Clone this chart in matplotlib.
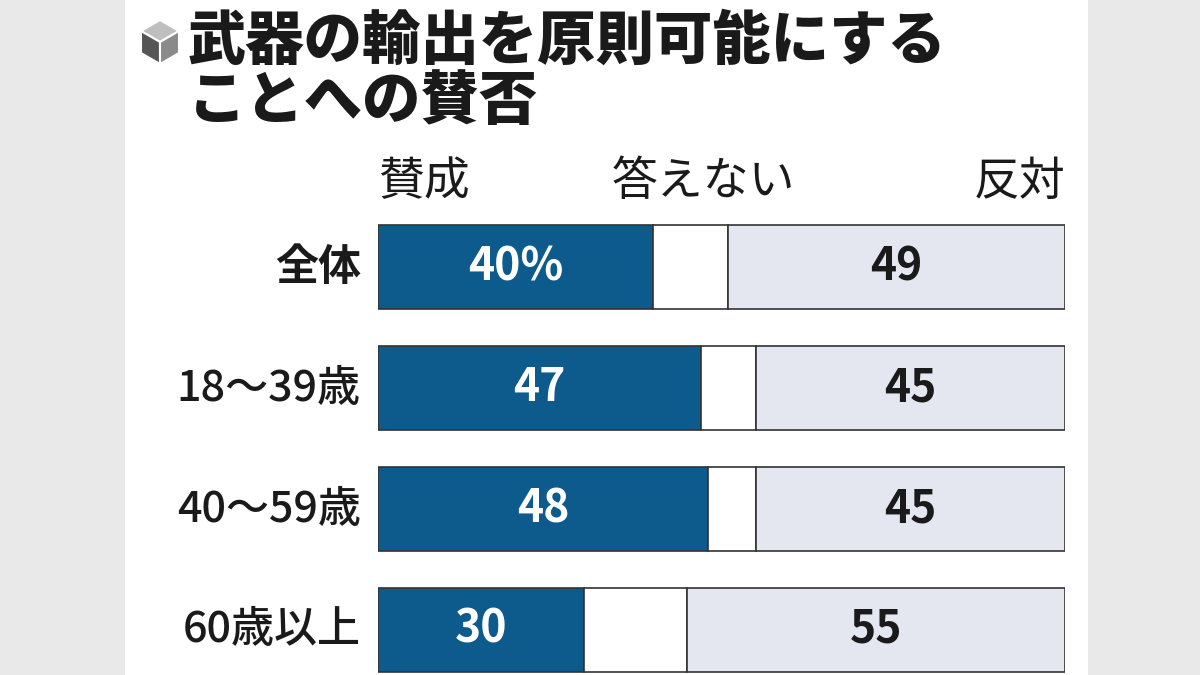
import matplotlib.pyplot as plt
from matplotlib.patches import Rectangle, Polygon

plt.rcParams['font.family'] = ['Noto Sans CJK JP', 'DejaVu Sans']

title_lines = ["武器の輸出を原則可能にする", "ことへの賛否"]
groups = ["全体", "18〜39歳", "40〜59歳", "60歳以上"]
agree = [40, 47, 48, 30]
no_answer = [11, 8, 7, 15]
disagree = [49, 45, 45, 55]
agree_labels = ["40%", "47", "48", "30"]
disagree_labels = ["49", "45", "45", "55"]

BLUE = "#0d5a8c"
LIGHT = "#e4e7f0"
EDGE = "#333333"

W, H = 1200, 675
fig = plt.figure(figsize=(12, 6.75), dpi=100)
fig.patch.set_facecolor("#e9e9e9")
# white panel
fig.patches.append(Rectangle((125 / W, 0), 963 / W, 1, transform=fig.transFigure,
                             facecolor="white", edgecolor="none", zorder=-5))

def fx(px):
    return px / W

def fy(py):
    return 1 - py / H

# cube icon
cx, cy = 160, 42
top = [(cx, cy - 22), (cx + 19, cy - 11), (cx, cy), (cx - 19, cy - 11)]
left = [(cx - 19, cy - 11), (cx, cy), (cx, cy + 22), (cx - 19, cy + 11)]
right = [(cx, cy), (cx + 19, cy - 11), (cx + 19, cy + 11), (cx, cy + 22)]
for pts, col in [(top, "#bfbfbf"), (left, "#555555"), (right, "#8a8a8a")]:
    fig.patches.append(Polygon([(fx(a), fy(b)) for a, b in pts], closed=True,
                               transform=fig.transFigure, facecolor=col,
                               edgecolor="white", linewidth=1.5))

fig.text(fx(188), fy(42), title_lines[0], fontsize=42, fontweight="heavy",
         va="center", ha="left", color="#1a1a1a")
fig.text(fx(188), fy(102), title_lines[1], fontsize=42, fontweight="heavy",
         va="center", ha="left", color="#1a1a1a")

# headers
fig.text(fx(378), fy(182), "賛成", fontsize=33, va="center", ha="left", color="#1a1a1a")
fig.text(fx(703), fy(182), "答えない", fontsize=33, va="center", ha="center", color="#1a1a1a")
fig.text(fx(1065), fy(182), "反対", fontsize=33, va="center", ha="right", color="#1a1a1a")

ax = fig.add_axes([fx(378), fy(675), (1065 - 378) / W, 475 / H])
ax.set_zorder(5)
ax.set_xlim(0, 100)
ax.set_ylim(3.372, -0.554)
ax.axis("off")

ypos = list(range(len(groups)))
left_na = agree
left_dis = [a + n for a, n in zip(agree, no_answer)]
ax.barh(ypos, agree, height=0.7, color=BLUE, edgecolor=EDGE, linewidth=1.2)
ax.barh(ypos, no_answer, left=left_na, height=0.7, color="white", edgecolor=EDGE, linewidth=1.2)
ax.barh(ypos, disagree, left=left_dis, height=0.7, color=LIGHT, edgecolor=EDGE, linewidth=1.2)

for i, g in enumerate(groups):
    ax.text(agree[i] / 2, i, agree_labels[i], color="white", fontsize=32,
            fontweight="bold", ha="center", va="center")
    ax.text(left_dis[i] + disagree[i] / 2, i, disagree_labels[i], color="#1a1a1a",
            fontsize=32, fontweight="bold", ha="center", va="center")
    ax.text(-2.5, i, g, fontsize=31, fontweight="bold" if i == 0 else "medium",
            ha="right", va="center", color="#1a1a1a", clip_on=False)

fig.savefig("out.png", dpi=100, facecolor=fig.get_facecolor())
